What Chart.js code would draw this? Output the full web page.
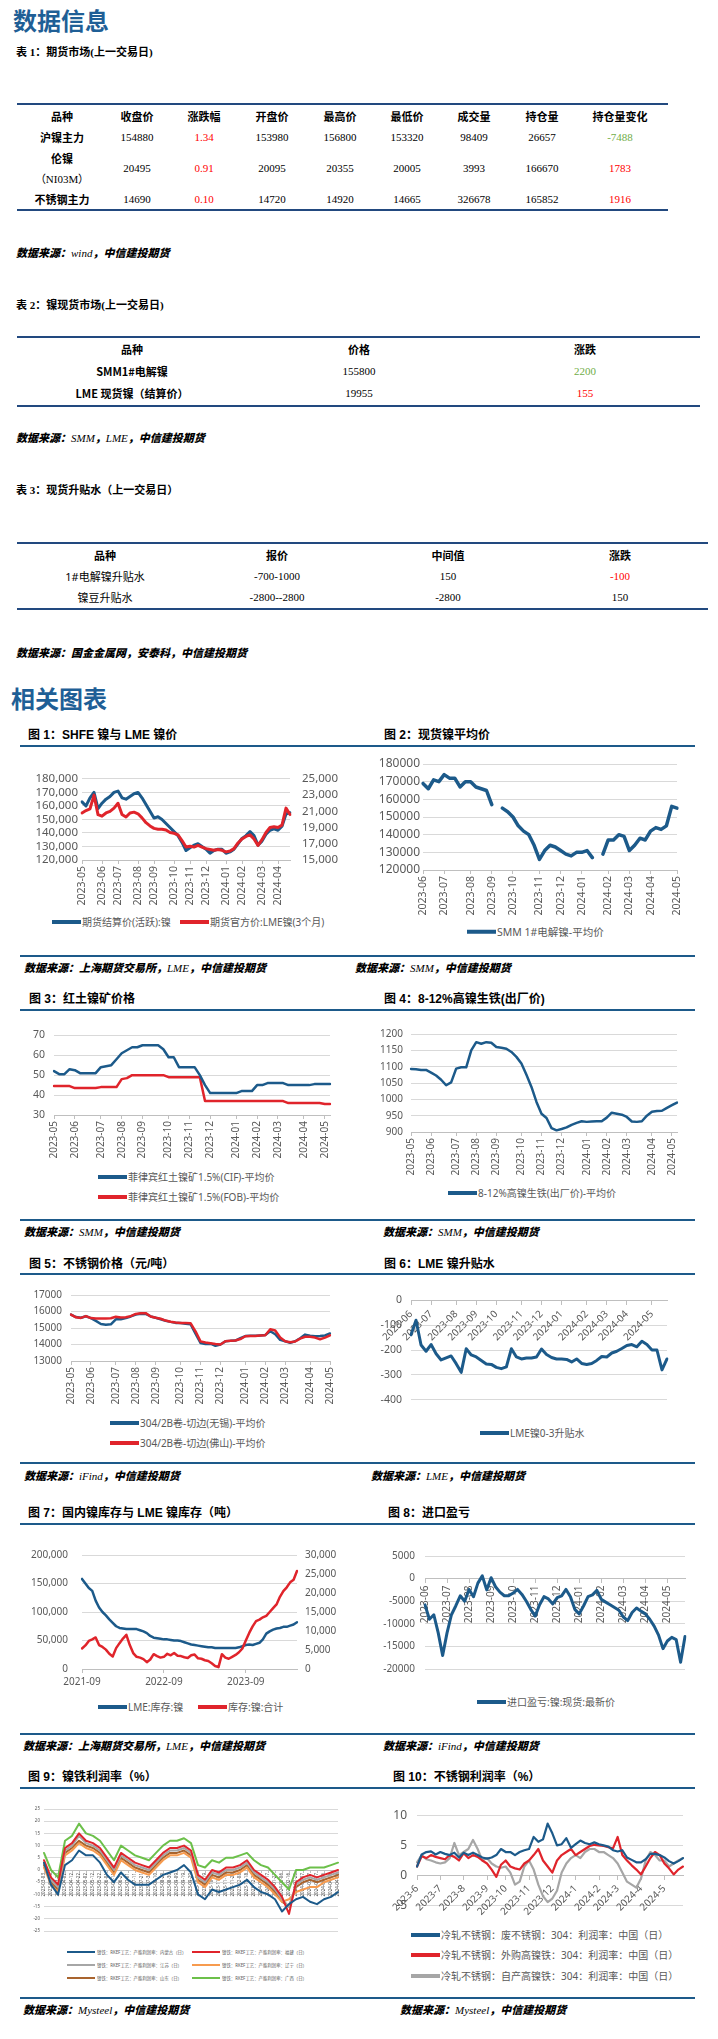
<!DOCTYPE html>
<html lang="zh-CN">
<head>
<meta charset="utf-8">
<title>镍 数据信息</title>
<script src="https://cdn.jsdelivr.net/npm/chart.js@4.4.1/dist/chart.umd.min.js"></script>
<style>
  html, body { margin: 0; padding: 0; background: #fff; }
  body { position: relative; width: 718px; height: 2039px; overflow: hidden; font-family: 'Noto Sans', 'Noto Sans CJK SC', sans-serif; color: #000; }
  .t { position: absolute; white-space: nowrap; transform: translateY(-50%); line-height: 1; }
  .c { position: absolute; white-space: nowrap; transform: translate(-50%, -50%); line-height: 1; font-size: 11px; }
  .sec { font-size: 24px; font-weight: bold; color: #1f5f96; font-family: 'Noto Sans CJK SC', sans-serif; }
  .cap { font-size: 11px; font-weight: bold; font-family: 'Liberation Serif', 'Noto Sans CJK SC', serif; }
  .src { font-size: 11px; font-weight: 900; font-style: italic; font-family: 'Noto Sans CJK SC', sans-serif; }
  .src .lat { font-family: 'Liberation Serif', serif; font-weight: normal; }
  .ttl { font-size: 12px; font-weight: bold; font-family: 'Liberation Sans', 'Noto Sans CJK SC', sans-serif; }
  .hd { font-weight: bold; font-family: 'Noto Sans CJK SC', sans-serif; }
  .num { font-family: 'Liberation Serif', serif; }
  .rule { position: absolute; height: 2px; }
  canvas { position: absolute; }
  .lg { position: absolute; display: flex; align-items: center; transform: translateY(-50%); white-space: nowrap; color: #595959; font-size: 10px; line-height: 1; }
  .lg i { display: block; width: 29px; height: 4px; margin-right: 1px; }
  .lg9 { position: absolute; display: flex; align-items: center; transform: translateY(-50%); white-space: nowrap; line-height: 1; }
  .lg9 i { display: block; width: 28px; height: 1.5px; margin-right: 2px; }
  .lg9 span { display: inline-block; font-size: 8px; color: #595959; transform: scale(0.55); transform-origin: left center; }
</style>
</head>
<body>
<script>
const FF = "'Noto Sans', 'Noto Sans CJK SC', sans-serif";
const TXT = '#595959', GRID = '#d9d9d9', AXIS = '#bfbfbf';
const BLUE = '#1c5a8a', RED = '#e0242b', GRAY = '#a6a6a6';
const RED_T = '#ff0000', GREEN_T = '#70ad47';
Chart.defaults.font.family = FF;
Chart.defaults.color = TXT;

// ---------- tables ----------
const t1Head = ['品种', '收盘价', '涨跌幅', '开盘价', '最高价', '最低价', '成交量', '持仓量', '持仓量变化'];
const t1Rows = [
  ['沪镍主力', '154880', '1.34', '153980', '156800', '153320', '98409', '26657', '-7488'],
  ['伦镍|（NI03M）', '20495', '0.91', '20095', '20355', '20005', '3993', '166670', '1783'],
  ['不锈钢主力', '14690', '0.10', '14720', '14920', '14665', '326678', '165852', '1916']
];
const t2Head = ['品种', '价格', '涨跌'];
const t2Rows = [['SMM1#电解镍', '155800', '2200'], ['LME 现货镍（结算价）', '19955', '155']];
const t2Chg = [GREEN_T, RED_T];
const t3Head = ['品种', '报价', '中间值', '涨跌'];
const t3Rows = [['1#电解镍升贴水', '-700-1000', '150', '-100'], ['镍豆升贴水', '-2800--2800', '-2800', '150']];
const t3Chg = [RED_T, '#000'];

// ---------- chart 1 ----------
const c1Names = ['期货结算价(活跃):镍', '期货官方价:LME镍(3个月)'];
const c1Ticks = ['2023-05', '2023-06', '2023-07', '2023-08', '2023-09', '2023-10', '2023-11', '2023-12', '2024-01', '2024-02', '2024-03', '2024-04'];
const c1TickAt = [0, 5, 9, 14, 18, 23, 27, 31, 36, 40, 45, 49];
const c1Shfe = [163000, 160000, 166000, 170000, 158000, 162000, 165000, 167000, 170000, 171000,
  166000, 165000, 167000, 169000, 170000, 166000, 161000, 156000, 151000, 152000,
  150000, 147000, 144000, 141000, 138000, 133000, 127000, 129000, 131000, 132000,
  130000, 128000, 125000, 127000, 128000, 128000, 125000, 126000, 128000, 132000,
  136000, 138000, 141000, 138000, 131000, 134000, 139000, 142000, 143000, 142000,
  145000, 154000, 155000];
const c1Lme = [20800, 21100, 21300, 23000, 20600, 20400, 20800, 21000, 21400, 22000,
  20600, 20300, 20800, 20900, 20700, 20200, 19600, 19200, 18900, 18800,
  18800, 18700, 18400, 18300, 18100, 17400, 16600, 16700, 16600, 16800,
  16600, 16400, 16300, 16200, 16300, 16200, 16000, 16100, 16400, 17100,
  17600, 17900, 18100, 17600, 16800, 17500, 18400, 19000, 19100, 19000,
  19300, 21400, 20600];

// ---------- chart 2 ----------
const c2Names = ['SMM 1#电解镍-平均价'];
const c2Ticks = ['2023-06', '2023-07', '2023-08', '2023-09', '2023-10', '2023-11', '2023-12', '2024-01', '2024-02', '2024-03', '2024-04', '2024-05'];
const c2TickAt = [0, 4, 9, 13, 17, 22, 26, 30, 35, 39, 43, 48];
const c2Smm = [169000, 166000, 171000, 170000, 174000, 172000, 172000, 167000, 170000, 170000,
  167000, 166000, 165000, 157000, null, 155000, 153000, 150000, 145000, 142000,
  140000, 134000, 126000, 131000, 134000, 133000, 131000, 129000, 128000, 130000,
  130000, 131000, 127000, null, 129000, 137000, 137000, 140000, 139000, 131000,
  134000, 138000, 137000, 142000, 144000, 143000, 145000, 156000, 155000];

// ---------- chart 3 ----------
const c3Names = ['菲律宾红土镍矿1.5%(CIF)-平均价', '菲律宾红土镍矿1.5%(FOB)-平均价'];
const c3Ticks = ['2023-05', '2023-06', '2023-07', '2023-08', '2023-09', '2023-10', '2023-11', '2023-12', '2024-01', '2024-02', '2024-03', '2024-04', '2024-05'];
const c3TickAt = [0, 4, 9, 13, 17, 22, 26, 30, 35, 39, 43, 48, 52];
const c3Cif = [52, 50.5, 50.5, 53, 52.5, 51, 51, 51, 51, 54,
  54.5, 55, 58, 61, 62.5, 64, 64, 65, 65, 65,
  65, 63, 59, 59, 54, 54, 54, 54, 50, 45,
  41, 41, 41, 41, 41, 41, 42, 42, 42, 45,
  45, 46, 46, 46, 46, 45, 45, 45, 45, 45,
  45.5, 45.5, 45.5, 45.5];
const c3Fob = [44.5, 44.5, 44.5, 44.5, 43.5, 43.5, 43.5, 43.5, 43.5, 44,
  44, 44, 44, 48, 48.5, 50, 50, 50, 50, 50,
  50, 50, 49, 49, 49, 49, 49, 49, 49, 37,
  37, 37, 37, 37, 37, 37, 37, 37, 37, 37,
  37, 37, 37, 37, 37, 36, 36, 36, 36, 36,
  36, 36, 35.5, 35.5];

// ---------- chart 4 ----------
const c4Names = ['8-12%高镍生铁(出厂价)-平均价'];
const c4Ticks = c3Ticks;
const c4TickAt = [0, 4, 9, 13, 17, 22, 26, 30, 35, 39, 43, 48, 52];
const c4Npi = [1093, 1092, 1090, 1090, 1082, 1073, 1060, 1043, 1052, 1094,
  1098, 1098, 1150, 1175, 1170, 1175, 1173, 1160, 1158, 1155,
  1145, 1130, 1110, 1075, 1038, 992, 956, 943, 912, 905,
  909, 914, 922, 928, 933, 931, 932, 933, 933, 944,
  959, 956, 953, 946, 932, 931, 933, 950, 962, 964,
  965, 974, 982, 990];

// ---------- chart 5 ----------
const c5Names = ['304/2B卷-切边(无锡)-平均价', '304/2B卷-切边(佛山)-平均价'];
const c5Ticks = c3Ticks;
const c5TickAt = [0, 4, 9, 13, 17, 22, 26, 30, 35, 39, 43, 48, 52];
const c5Wuxi = [15810, 15660, 15620, 15710, 15600, 15430, 15240, 15200, 15220, 15530,
  15530, 15600, 15700, 15820, 15860, 15850, 15700, 15620, 15530, 15440,
  15370, 15310, 15300, 15250, 15230, 14650, 14090, 14030, 14050, 13920,
  14000, 14190, 14220, 14240, 14380, 14510, 14530, 14530, 14550, 14570,
  14800, 14620, 14280, 14200, 14100, 14200, 14380, 14600, 14530, 14500,
  14510, 14550, 14670];
const c5Foshan = [15810, 15650, 15610, 15720, 15600, 15580, 15570, 15580, 15590, 15680,
  15640, 15650, 15720, 15850, 15900, 15900, 15700, 15620, 15560, 15450,
  15380, 15330, 15310, 15300, 15290, 14800, 14190, 14120, 14080, 14030,
  14000, 14200, 14220, 14240, 14330, 14500, 14520, 14520, 14540, 14560,
  14920, 14850, 14420, 14200, 14140, 14180, 14360, 14470, 14470, 14420,
  14320, 14420, 14560];

// ---------- chart 6 ----------
const c6Names = ['LME镍0-3升贴水'];
const c6Ticks = c2Ticks;
const c6TickAt = [0, 4, 9, 13, 17, 22, 26, 30, 35, 39, 43, 48];
const c6Spread = [-139, -80, -180, -205, -178, -215, -240, -232, -224, -255,
  -290, -195, -220, -228, -242, -256, -258, -270, -275, -268,
  -195, -228, -236, -232, -232, -228, -196, -218, -230, -236,
  -236, -238, -248, -236, -254, -258, -254, -242, -226, -228,
  -212, -205, -194, -182, -178, -187, -165, -178, -200, -200,
  -280, -236];

// ---------- chart 7 ----------
const c7Names = ['LME:库存:镍', '库存:镍:合计'];
const c7Ticks = ['2021-09', '2022-09', '2023-09'];
const c7TickAt = [0, 24, 48];
const c7Lme = [158000, 150000, 142000, 137000, 120000, 108000, 100000, 94000, 87000, 81000,
  75000, 72000, 71000, 70000, 70000, 70000, 70000, 68000, 66000, 63000,
  58000, 55000, 54000, 53000, 52000, 52000, 51000, 50000, 50000, 49000,
  47000, 45000, 43000, 42000, 41000, 40000, 39000, 38000, 38000, 37000,
  37000, 37000, 37000, 37000, 37000, 37000, 38000, 40000, 42000, 43000,
  42000, 44000, 46000, 52000, 62000, 66000, 69000, 71000, 72000, 74000,
  74000, 76000, 78000, 82000];
const c7Dom = [5400, 6200, 7400, 7800, 8300, 6300, 5800, 5100, 4000, 3300,
  5500, 6800, 8000, 9000, 6300, 4200, 3200, 3000, 2600, 1800,
  2500, 3900, 3400, 3000, 3200, 4000, 3600, 4200, 3500, 3400,
  3100, 2900, 3600, 3800, 2800, 2700, 2300, 2100, 1500, 800,
  500, 3900, 3000, 2700, 3200, 3700, 4400, 5400, 7500, 9500,
  11200, 12600, 13000, 13600, 14000, 15000, 16000, 17000, 19000, 20500,
  21500, 22800, 23500, 25800];

// ---------- chart 8 ----------
const c8Names = ['进口盈亏:镍:现货:最新价'];
const c8Ticks = c2Ticks;
const c8TickAt = [0, 5, 10, 15, 20, 25, 30, 35, 40, 45, 50, 55];
const c8Pl = [-5800, -9000, -8000, -12000, -17000, -12000, -8000, -6000, -3800, -5000,
  -2400, -4000, -1000, 600, -2500, 200, -1800, -3000, -3800, -3800,
  -3200, -2400, -3500, -5000, -6800, -8300, -5800, -4000, -4500, -5600,
  -4200, -3800, -2400, -4000, -6800, -7800, -6000, -4000, -3600, -2600,
  -4600, -5200, -5800, -6400, -7000, -8500, -9300, -7500, -6500, -7200,
  -7800, -9000, -10500, -12500, -15500, -13800, -13000, -13500, -18500, -12800];

// ---------- chart 9 ----------
const c9Names = ['镍铁：RKEF工艺：产能利润率：内蒙古（日）', '镍铁：RKEF工艺：产能利润率：福建（日）',
  '镍铁：RKEF工艺：产能利润率：江苏（日）', '镍铁：RKEF工艺：产能利润率：辽宁（日）',
  '镍铁：RKEF工艺：产能利润率：山东（日）', '镍铁：RKEF工艺：产能利润率：广西（日）'];
const c9Colors = [BLUE, RED, GRAY, '#f79b4f', '#a9642e', '#6cc04a'];
const c9Dates = ['2023-03-03', '2023-03-13', '2023-03-23', '2023-04-02', '2023-04-12', '2023-04-22',
  '2023-05-02', '2023-05-12', '2023-05-22', '2023-06-01', '2023-06-11', '2023-06-21',
  '2023-07-01', '2023-07-11', '2023-07-21', '2023-07-31', '2023-08-10', '2023-08-20',
  '2023-08-30', '2023-09-09', '2023-09-19', '2023-09-29', '2023-10-09', '2023-10-19',
  '2023-10-29', '2023-11-08', '2023-11-18', '2023-11-28', '2023-12-08', '2023-12-18',
  '2023-12-28', '2024-01-07', '2024-01-17', '2024-01-27', '2024-02-06', '2024-02-16',
  '2024-02-26', '2024-03-07', '2024-03-17', '2024-03-27', '2024-04-06', '2024-04-16', '2024-04-26'];
const c9Blue = [3, -6, -10, 2, 4, 8, 6, 6, 3, -2, -5, -1, -4, -6, -6, -6, -4, -2, -1, 0, 2, -1,
  -10, -12, -8, -9, -8, -7, -6, -4, -7, -9, -10, -12, -17, -14, -12, -11, -13, -14, -12, -11, -9];
const c9Red = [4, -3, -6, 9, 11, 15, 12, 11, 9, 5, 1, 7, 5, 3, 2, 1, 4, 7, 9, 9, 10, 8,
  -2, -4, 0, -1, 1, 1, 2, 4, 0, -2, -4, -7, -11, -18, -5, -3, -2, -3, -2, -1, 0];
const c9Gray = [3, -4, -7, 8, 10, 14, 11, 10, 8, 4, 0, 6, 4, 2, 1, 0, 3, 6, 8, 8, 9, 7,
  -3, -5, -1, -2, 0, 0, 1, 3, -1, -3, -5, -8, -12, -15, -6, -4, -3, -4, -3, -2, -1];
const c9Orange = [1, -6, -9, 6, 8, 11, 9, 8, 6, 2, -2, 4, 2, 0, -1, -2, 1, 4, 6, 6, 7, 5,
  -5, -7, -3, -4, -2, -2, -1, 1, -3, -5, -7, -10, -13, -12, -9, -8, -7, -7, -5, -4, -3];
const c9Brown = [2, -5, -8, 7, 9, 12, 10, 9, 7, 3, -1, 5, 3, 1, 0, -1, 2, 5, 7, 7, 8, 6,
  -4, -6, -2, -3, -1, -1, 0, 2, -2, -4, -6, -9, -13, -15, -7, -5, -4, -5, -4, -3, -2];
const c9Green = [7, 0, -3, 12, 14, 19, 15, 14, 12, 8, 4, 10, 8, 6, 5, 4, 7, 10, 12, 12, 13, 11,
  2, 1, 4, 3, 5, 5, 6, 7, 4, 2, 1, -2, -5, -8, 0, 0, 1, 1, 1, 2, 3];

// ---------- chart 10 ----------
const c10Names = ['冷轧不锈钢：废不锈钢：304：利润率：中国（日）', '冷轧不锈钢：外购高镍铁：304：利润率：中国（日）', '冷轧不锈钢：自产高镍铁：304：利润率：中国（日）'];
const c10Ticks = ['2023-6', '2023-7', '2023-8', '2023-9', '2023-10', '2023-11', '2023-12', '2024-1', '2024-2', '2024-3', '2024-4', '2024-5'];
const c10TickAt = [0, 5, 10, 15, 19, 24, 29, 34, 39, 43, 48, 53];
const c10Scrap = [1.5, 3.5, 3.9, 4.0, 3.5, 3.9, 3.6, 3.4, 3.8, 3.0, 3.8, 3.4, 3.8, 3.4, 3.0, 2.8, 3.0, 3.4, 4.4, 3.9,
  3.9, 3.4, 3.9, 4.2, 4.4, 6.4, 5.6, 6.0, 8.6, 7.0, 5.0, 5.2, 6.2, 4.6, 5.2, 5.8, 5.4, 5.2, 5.5, 5.2,
  5.0, 4.8, 4.2, 4.0, 4.2, 3.0, 2.6, 2.2, 2.2, 2.7, 3.6, 3.6, 3.4, 3.0, 2.4, 2.0, 2.4, 2.9];
const c10Buy = [1.5, 3.2, 2.9, 3.4, 3.1, 2.9, 2.7, 3.4, 3.1, 2.5, 3.7, 2.9, 3.4, 3.1, 2.5, 2.0, 1.0, -0.2, 1.8, 2.5,
  1.5, 1.2, 1.0, 2.0, 2.5, 3.4, 4.4, 2.5, 1.5, 0.5, 2.5, 3.4, 3.9, 4.4, 3.4, 3.9, 4.4, 4.9, 5.1, 5.0,
  4.9, 4.7, 4.5, 6.4, 3.4, 2.5, 1.7, 1.0, 0.2, 1.5, 2.9, 3.9, 3.4, 2.0, 1.2, 0.2, 1.0, 1.5];
const c10Own = [2.2, 3.4, 2.7, 2.5, 2.2, 2.0, 2.2, 2.9, 5.4, 3.4, 3.9, 4.4, 5.9, 4.4, 2.5, 2.9, 2.0, 1.5, 1.3, 1.5,
  0.5, -1.5, -1.0, 1.5, 2.5, 1.0, -1.5, -3.4, -4.4, -3.8, -2.5, 0.5, 2.0, 2.9, 3.4, 2.9, 3.9, 4.4, 4.4, 3.9,
  3.9, 3.4, 2.9, 2.0, 0.5, -1.0, -1.5, -2.0, -0.5, 2.5, 3.9, 3.4, 2.5, 2.5, 1.5, 2.0, 2.5, 2.9];

// ---------- page text ----------
const chartTitles = [
  ['图 1：SHFE 镍与 LME 镍价', 28, 735], ['图 2：现货镍平均价', 384, 735],
  ['图 3：红土镍矿价格', 29, 999], ['图 4：8-12%高镍生铁(出厂价)', 384, 999],
  ['图 5：不锈钢价格（元/吨）', 29, 1264], ['图 6：LME 镍升贴水', 384, 1264],
  ['图 7：国内镍库存与 LME 镍库存（吨）', 28, 1513], ['图 8：进口盈亏', 388, 1513],
  ['图 9：镍铁利润率（%）', 28, 1777], ['图 10：不锈钢利润率（%）', 393, 1777]
];
const chartRules = [746, 956, 1010, 1220, 1274, 1463, 1524, 1734, 1788, 1998];
const sources = [
  ['数据来源：<span class="lat">wind</span>，中信建投期货', 16, 253],
  ['数据来源：<span class="lat">SMM</span>，<span class="lat">LME</span>，中信建投期货', 16, 438],
  ['数据来源：国金金属网，安泰科，中信建投期货', 16, 652],
  ['数据来源：上海期货交易所，<span class="lat">LME</span>，中信建投期货', 24, 968],
  ['数据来源：<span class="lat">SMM</span>，中信建投期货', 355, 968],
  ['数据来源：<span class="lat">SMM</span>，中信建投期货', 24, 1232],
  ['数据来源：<span class="lat">SMM</span>，中信建投期货', 383, 1232],
  ['数据来源：<span class="lat">iFind</span>，中信建投期货', 24, 1476],
  ['数据来源：<span class="lat">LME</span>，中信建投期货', 371, 1476],
  ['数据来源：上海期货交易所，<span class="lat">LME</span>，中信建投期货', 23, 1746],
  ['数据来源：<span class="lat">iFind</span>，中信建投期货', 383, 1746],
  ['数据来源：<span class="lat">Mysteel</span>，中信建投期货', 23, 2010],
  ['数据来源：<span class="lat">Mysteel</span>，中信建投期货', 400, 2010]
];

function put(cls, html, x, y, color) {
  const d = document.createElement('div');
  d.className = cls;
  d.innerHTML = html;
  d.style.left = x + 'px';
  d.style.top = y + 'px';
  if (color) d.style.color = color;
  document.body.appendChild(d);
  return d;
}
function rule(x1, x2, y, color) {
  const d = document.createElement('div');
  d.className = 'rule';
  d.style.left = x1 + 'px';
  d.style.width = (x2 - x1) + 'px';
  d.style.top = (y - 1) + 'px';
  d.style.background = color;
  document.body.appendChild(d);
}
function legend(x, y, color, text, size) {
  const d = document.createElement('div');
  d.className = 'lg';
  d.style.left = x + 'px';
  d.style.top = y + 'px';
  if (size) d.style.fontSize = size + 'px';
  const i = document.createElement('i');
  i.style.background = color;
  d.appendChild(i);
  d.appendChild(document.createTextNode(text));
  document.body.appendChild(d);
}
function legendTiny(x, y, color, text) {
  const d = document.createElement('div');
  d.className = 'lg9';
  d.style.left = x + 'px';
  d.style.top = y + 'px';
  const i = document.createElement('i');
  i.style.background = color;
  const s = document.createElement('span');
  s.textContent = text;
  d.appendChild(i);
  d.appendChild(s);
  document.body.appendChild(d);
}

// headings
put('t sec', '数据信息', 13, 20);
put('t cap', '表 1：期货市场(上一交易日)', 16, 52);
put('t cap', '表 2：镍现货市场(上一交易日)', 16, 305);
put('t cap', '表 3：现货升贴水（上一交易日）', 16, 490);
put('t sec', '相关图表', 11, 698);
sources.forEach(s => put('t src', s[0], s[1], s[2]));

// table 1
const TBL = '#22497f';
rule(17, 668, 104, TBL); rule(17, 668, 210, TBL);
const t1X = [62, 137, 204, 272, 340, 407, 474, 542, 620];
const t1RowY = [137, 168, 199];
t1Head.forEach((h, j) => put('c hd', h, t1X[j], 116));
t1Rows.forEach((r, i) => r.forEach((v, j) => {
  if (j === 0) {
    const parts = v.split('|');
    if (parts.length === 2) {
      put('c hd', parts[0], t1X[0], t1RowY[i] - 10);
      put('c num', parts[1], t1X[0], t1RowY[i] + 11);
    } else {
      put('c hd', v, t1X[0], t1RowY[i]);
    }
    return;
  }
  let col = null;
  if (j === 2) col = RED_T;
  if (j === 8) col = v.startsWith('-') ? GREEN_T : RED_T;
  put('c num', v, t1X[j], t1RowY[i], col);
}));

// table 2
rule(17, 700, 337, TBL); rule(17, 700, 406, TBL);
const t2X = [132, 359, 585];
const t2RowY = [371, 393];
t2Head.forEach((h, j) => put('c hd', h, t2X[j], 349));
t2Rows.forEach((r, i) => {
  put('c hd', r[0], t2X[0], t2RowY[i]);
  put('c num', r[1], t2X[1], t2RowY[i]);
  put('c num', r[2], t2X[2], t2RowY[i], t2Chg[i]);
});

// table 3
rule(17, 708, 543, TBL); rule(17, 708, 609, TBL);
const t3X = [105, 277, 448, 620];
const t3RowY = [576, 597];
t3Head.forEach((h, j) => put('c hd', h, t3X[j], 555));
t3Rows.forEach((r, i) => {
  put('c', r[0], t3X[0], t3RowY[i]);
  put('c num', r[1], t3X[1], t3RowY[i]);
  put('c num', r[2], t3X[2], t3RowY[i]);
  put('c num', r[3], t3X[3], t3RowY[i], t3Chg[i]);
});

// chart frames
chartTitles.forEach(t => put('t ttl', t[0], t[1], t[2]));
chartRules.forEach(y => rule(20, 695, y, '#1d5a8a'));

// ---------- chart helpers ----------
function ticksAt(n, at, names) {
  const a = new Array(n).fill('');
  at.forEach((k, j) => { a[k] = names[j]; });
  return a;
}
function yScale(o) {
  return {
    type: 'linear', position: o.pos || 'left', min: o.min, max: o.max,
    ticks: { stepSize: o.step, autoSkip: false, color: TXT, padding: o.pad, font: { size: o.size }, callback: o.fmt || (v => String(v)) },
    grid: { color: GRID, drawTicks: false, drawOnChartArea: o.grid !== false, lineWidth: 1 },
    border: { display: false },
    afterFit: s => { s.width = o.w; }
  };
}
function xScale(o) {
  const sc = {
    type: 'category', position: o.pos || 'bottom', offset: false,
    ticks: { autoSkip: false, maxRotation: o.rot, minRotation: o.rot, color: o.color || TXT, padding: o.pad || 2, font: { size: o.size } },
    grid: { drawOnChartArea: false, tickLength: o.tick == null ? 4 : o.tick, lineWidth: 1, color: c => (c.tick && c.tick.label) ? AXIS : 'rgba(0,0,0,0)' },
    border: { display: true, color: AXIS }
  };
  if (o.h != null) sc.afterFit = s => { s.height = o.h; };
  return sc;
}
function line(label, data, color, width, axis, order) {
  return { label, data, borderColor: color, backgroundColor: color, borderWidth: width, pointRadius: 0,
    fill: false, tension: 0, yAxisID: axis || 'y', order: order || 0, spanGaps: false,
    borderJoinStyle: 'round', borderCapStyle: 'round' };
}
function draw(box, pad, labels, datasets, scales) {
  const cv = document.createElement('canvas');
  cv.width = box[2]; cv.height = box[3];
  cv.style.left = box[0] + 'px'; cv.style.top = box[1] + 'px';
  cv.style.width = box[2] + 'px'; cv.style.height = box[3] + 'px';
  document.body.appendChild(cv);
  return new Chart(cv.getContext('2d'), {
    type: 'line',
    data: { labels, datasets },
    options: {
      responsive: false, animation: false, devicePixelRatio: 1, events: [],
      layout: { padding: pad },
      plugins: { legend: { display: false }, tooltip: { enabled: false } },
      scales
    }
  });
}
const comma = v => v.toLocaleString('en-US');

// chart 1
draw([20, 760, 330, 148], { top: 13, left: 0, right: 0, bottom: 0 },
  ticksAt(c1Shfe.length, c1TickAt, c1Ticks),
  [line(c1Names[0], c1Shfe, BLUE, 3, 'y', 1), line(c1Names[1], c1Lme, RED, 3, 'y2', 0)],
  {
    x: xScale({ rot: 90, size: 10.5, h: 48 }),
    y: yScale({ min: 120000, max: 180000, step: 10000, w: 62, pad: 4, size: 11.5, fmt: comma }),
    y2: yScale({ pos: 'right', min: 15000, max: 25000, step: 2000, w: 60, pad: 12, size: 11.5, fmt: comma, grid: false })
  });
legend(52, 922, BLUE, c1Names[0]);
legend(180, 922, RED, c1Names[1]);

// chart 2
draw([365, 752, 330, 166], { top: 12, left: 0, right: 18, bottom: 0 },
  ticksAt(c2Smm.length, c2TickAt, c2Ticks),
  [line(c2Names[0], c2Smm, BLUE, 3.5)],
  {
    x: xScale({ rot: 90, size: 10.5, h: 48 }),
    y: yScale({ min: 120000, max: 180000, step: 10000, w: 58, pad: 3, size: 12 })
  });
legend(467, 932, BLUE, c2Names[0], 10.5);

// chart 3
draw([10, 1020, 335, 142], { top: 11, left: 0, right: 15, bottom: 0 },
  ticksAt(c3Cif.length, c3TickAt, c3Ticks),
  [line(c3Names[0], c3Cif, BLUE, 2.5), line(c3Names[1], c3Fob, RED, 2.5)],
  {
    x: xScale({ rot: 90, size: 10, h: 47 }),
    y: yScale({ min: 30, max: 70, step: 10, w: 44, pad: 9, size: 10.5 })
  });
legend(98, 1177, BLUE, c3Names[0]);
legend(98, 1197, RED, c3Names[1]);

// chart 4
draw([365, 1020, 330, 160], { top: 12, left: 0, right: 18, bottom: 0 },
  ticksAt(c4Npi.length, c4TickAt, c4Ticks),
  [line(c4Names[0], c4Npi, BLUE, 2.5)],
  {
    x: xScale({ rot: 90, size: 10, h: 48 }),
    y: yScale({ min: 900, max: 1200, step: 50, w: 46, pad: 8, size: 10 })
  });
legend(448, 1193, BLUE, c4Names[0]);

// chart 5
draw([10, 1280, 335, 127], { top: 11, left: 0, right: 15, bottom: 0 },
  ticksAt(c5Wuxi.length, c5TickAt, c5Ticks),
  [line(c5Names[0], c5Wuxi, BLUE, 2.5, 'y', 1), line(c5Names[1], c5Foshan, RED, 2.5, 'y', 0)],
  {
    x: xScale({ rot: 90, size: 10, h: 46 }),
    y: yScale({ min: 13000, max: 17000, step: 1000, w: 61, pad: 9, size: 10 })
  });
legend(110, 1423, BLUE, c5Names[0]);
legend(110, 1443, RED, c5Names[1]);

// chart 6
draw([365, 1285, 330, 130], { top: 13, left: 0, right: 28, bottom: 6 },
  ticksAt(c6Spread.length, c6TickAt, c6Ticks),
  [line(c6Names[0], c6Spread, BLUE, 3)],
  {
    x: xScale({ rot: 45, size: 10, pos: { y: 0 }, pad: 4 }),
    y: yScale({ min: -400, max: 0, step: 100, w: 46, pad: 9, size: 10.5 })
  });
legend(480, 1433, BLUE, c6Names[0]);

// chart 7
draw([20, 1535, 325, 160], { top: 11, left: 0, right: 0, bottom: 0 },
  ticksAt(c7Lme.length, c7TickAt, c7Ticks),
  [line(c7Names[0], c7Lme, BLUE, 2.5, 'y', 1), line(c7Names[1], c7Dom, RED, 2.5, 'y2', 0)],
  {
    x: xScale({ rot: 0, size: 10, h: 26, pad: 3 }),
    y: yScale({ min: 0, max: 200000, step: 50000, w: 62, pad: 14, size: 10, fmt: comma }),
    y2: yScale({ pos: 'right', min: 0, max: 30000, step: 5000, w: 48, pad: 8, size: 10, fmt: comma, grid: false })
  });
legend(98, 1707, BLUE, c7Names[0]);
legend(198, 1707, RED, c7Names[1]);

// chart 8
draw([365, 1540, 335, 145], { top: 13, left: 0, right: 15, bottom: 8 },
  ticksAt(c8Pl.length, c8TickAt, c8Ticks),
  [line(c8Names[0], c8Pl, BLUE, 3)],
  {
    x: xScale({ rot: 90, size: 10, pos: { y: 0 }, pad: 3 }),
    y: yScale({ min: -20000, max: 5000, step: 5000, w: 60, pad: 10, size: 10 })
  });
legend(477, 1702, BLUE, c8Names[0]);

// chart 9
const c9Series = [c9Blue, c9Red, c9Gray, c9Orange, c9Brown, c9Green];
draw([20, 1800, 330, 140], { top: 9, left: 0, right: 12, bottom: 9 },
  c9Dates,
  c9Series.map((d, k) => line(c9Names[k], d, c9Colors[k], 2)),
  {
    x: xScale({ rot: 90, size: 4.5, pos: { y: 0 }, pad: 1, tick: 2, color: '#404040' }),
    y: yScale({ min: -25, max: 25, step: 5, w: 24, pad: 4, size: 4.5 })
  });
[[67, 1952], [192, 1952], [67, 1965], [192, 1965], [67, 1978], [192, 1978]].forEach((p, k) =>
  legendTiny(p[0], p[1], c9Colors[k], c9Names[k]));

// chart 10
draw([365, 1798, 330, 125], { top: 11, left: 0, right: 12, bottom: 13 },
  ticksAt(c10Scrap.length, c10TickAt, c10Ticks),
  [line(c10Names[0], c10Scrap, BLUE, 2.2), line(c10Names[1], c10Buy, RED, 2.2), line(c10Names[2], c10Own, GRAY, 2.2)],
  {
    x: xScale({ rot: 45, size: 10, pos: { y: 0 }, pad: 3 }),
    y: yScale({ min: -5, max: 10, step: 5, w: 52, pad: 10, size: 12 })
  });
legend(411, 1935, BLUE, c10Names[0]);
legend(411, 1955, RED, c10Names[1]);
legend(411, 1976, GRAY, c10Names[2]);
</script>
</body>
</html>
